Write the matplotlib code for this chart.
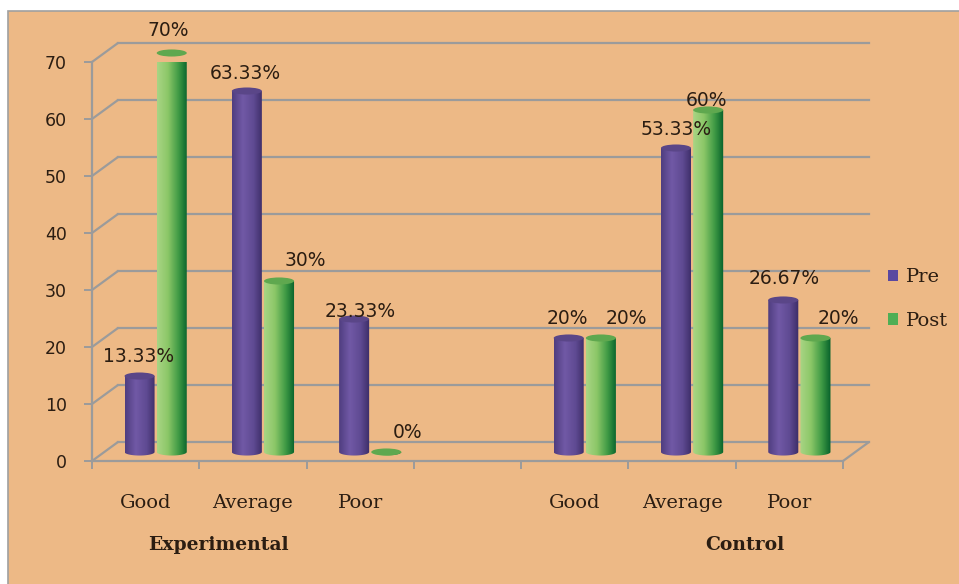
import numpy as np
import matplotlib
matplotlib.use("Agg")
import matplotlib.pyplot as plt
from matplotlib.colors import LinearSegmentedColormap
from matplotlib.patches import Ellipse, PathPatch, Rectangle, Patch
from matplotlib.path import Path
from matplotlib.transforms import ScaledTranslation

# ---- data -------------------------------------------------------------
levels = ["Good", "Average", "Poor"]
groups = ["Experimental", "Control"]
pre_experimental = [13.33, 63.33, 23.33]
post_experimental = [70, 30, 0]
pre_control = [20, 53.33, 26.67]
post_control = [20, 60, 20]
y_ticks = [0, 10, 20, 30, 40, 50, 60, 70]
series_names = ["Pre", "Post"]

# ---- styling ----------------------------------------------------------
W, H, DPI = 959, 584, 100
BG = "#EDB986"
GRID = "#9b9b9b"
TEXT = "#2b1d12"
NUM_FONT = ["DejaVu Sans"]
CAT_FONT = ["DejaVu Serif"]

purple_cmap = LinearSegmentedColormap.from_list(
    "cyl_purple",
    [(0.0, "#4f3d7f"), (0.35, "#7159a6"), (0.7, "#5f4a92"), (1.0, "#3b2c66")])
green_cmap = LinearSegmentedColormap.from_list(
    "cyl_green",
    [(0.0, "#a9d585"), (0.35, "#8cc768"), (0.7, "#3f9a45"), (1.0, "#05602a")])
top_colors = ["#5a4688", "#5fa84f"]
legend_colors = ["#5a48a0", "#4fae55"]

bar_w = 0.28
pair_gap = 0.15
ry = 0.62            # vertical radius of cylinder caps, data units
mid_depth = (10, 9)  # pixel shift of bars into the floor
back_depth = (26, 19)  # pixel shift of the back wall

# label nudges in pixels (x, y) for Pre and Post of each group
pre_nudge = [[(-1, 0), (-2, -2), (6, -12)], [(-1, 0), (0, -1), (1, 1)]]
post_nudge = [[(-3, 2), (26, 0), (21, -1)], [(25, 0), (-2, -10), (23, 0)]]

fig = plt.figure(figsize=(W / DPI, H / DPI), dpi=DPI)
fig.patch.set_facecolor("white")
fig.add_artist(Rectangle((8 / W, -0.01), 1.0, (H - 11) / H + 0.01,
                         transform=fig.transFigure, facecolor=BG,
                         edgecolor="#a0a0a0", lw=1.2, zorder=0))

ax = fig.add_axes([92 / W, (H - 461) / H, 751 / W, 399 / H])
ax.set_facecolor("none")

slots = levels + [""] + levels
slot_x = np.arange(len(slots))
group_x = [slot_x[:3], slot_x[4:]]


def shifted(dx, dy):
    return ax.transData + ScaledTranslation(dx / DPI, dy / DPI, fig.dpi_scale_trans)


back = shifted(*back_depth)
mid = shifted(*mid_depth)

# back wall gridlines and side-wall diagonals
x_lo, x_hi = -0.5, len(slots) - 0.5
for v in y_ticks:
    ax.plot([x_lo, x_hi], [v, v], color=GRID, lw=1.6, transform=back,
            clip_on=False, zorder=1)
    ax.annotate("", xy=(x_lo, v), xycoords=back, xytext=(x_lo, v),
                textcoords=ax.transData,
                arrowprops=dict(arrowstyle="-", color=GRID, lw=1.6,
                                shrinkA=0, shrinkB=0), zorder=1)
ax.annotate("", xy=(x_hi, 0), xycoords=back, xytext=(x_hi, 0),
            textcoords=ax.transData,
            arrowprops=dict(arrowstyle="-", color=GRID, lw=1.6,
                            shrinkA=0, shrinkB=0), zorder=1)

grad = np.linspace(0, 1, 256).reshape(1, -1)


def cylinder(xc, val, cmap, cap_color):
    half = bar_w / 2
    t = np.linspace(np.pi, 2 * np.pi, 48)
    arc = np.column_stack([xc + half * np.cos(t), ry * np.sin(t)])
    verts = np.vstack([[xc - half, val], arc, [xc + half, val], [xc - half, val]])
    outline = Path(verts, closed=True)
    clip = PathPatch(outline, transform=mid, facecolor="none", edgecolor="none")
    ax.add_patch(clip)
    im = ax.imshow(grad, cmap=cmap, aspect="auto", interpolation="bilinear",
                   extent=(xc - half, xc + half, -ry, val),
                   transform=mid, zorder=3)
    im.set_clip_path(clip)
    ax.add_patch(Ellipse((xc, val), bar_w, 2 * ry, transform=mid,
                         facecolor=cap_color, edgecolor="none", zorder=4,
                         clip_on=False))


def value_label(xc, val, nudge):
    ax.annotate(f"{val:g}%", xy=(xc, val), xycoords=mid,
                xytext=(nudge[0] * 0.72, (20 + nudge[1]) * 0.72),
                textcoords="offset points", ha="center", va="center",
                fontsize=13.5, family=NUM_FONT, color=TEXT, zorder=6)


for gi, (pre, post) in enumerate([(pre_experimental, post_experimental),
                                  (pre_control, post_control)]):
    for k, x in enumerate(group_x[gi]):
        cylinder(x - pair_gap, pre[k], purple_cmap, top_colors[0])
        cylinder(x + pair_gap, post[k], green_cmap, top_colors[1])
        value_label(x - pair_gap, pre[k], pre_nudge[gi][k])
        value_label(x + pair_gap, post[k], post_nudge[gi][k])

ax.set_xlim(x_lo, x_hi)
ax.set_ylim(0, 70)

for s in ["top", "right"]:
    ax.spines[s].set_visible(False)
for s in ["left", "bottom"]:
    ax.spines[s].set_color(GRID)
    ax.spines[s].set_linewidth(1.6)

ax.set_yticks(y_ticks)
ax.set_yticklabels([str(v) for v in y_ticks], family=NUM_FONT, fontsize=12.5,
                   color=TEXT)
ax.tick_params(axis="y", length=6, width=1.4, color=GRID, pad=12)

ax.set_xticks(slot_x)
ax.set_xticklabels(slots, family=CAT_FONT, fontsize=14, color=TEXT)
ax.set_xticks(np.arange(x_lo, x_hi + 0.01, 1.0), minor=True)
ax.tick_params(axis="x", which="major", length=0, pad=24)
ax.tick_params(axis="x", which="minor", length=6, width=1.4, color=GRID)

# group titles
fig.text(218 / W, 1 - 545 / H, groups[0], ha="center", va="center",
         family=CAT_FONT, fontweight="bold", fontsize=13.5, color=TEXT)
fig.text(745 / W, 1 - 545 / H, groups[1], ha="center", va="center",
         family=CAT_FONT, fontweight="bold", fontsize=13.5, color=TEXT)

handles = [Patch(facecolor=legend_colors[0]), Patch(facecolor=legend_colors[1])]
fig.legend(handles, series_names, loc="center left",
           bbox_to_anchor=(870 / W, 1 - 299 / H), frameon=False,
           prop=dict(family=CAT_FONT, size=14), labelcolor=TEXT,
           handlelength=0.55, handleheight=0.55, handletextpad=0.4,
           labelspacing=1.3)

fig.savefig("out.png", dpi=DPI, facecolor=fig.get_facecolor())
